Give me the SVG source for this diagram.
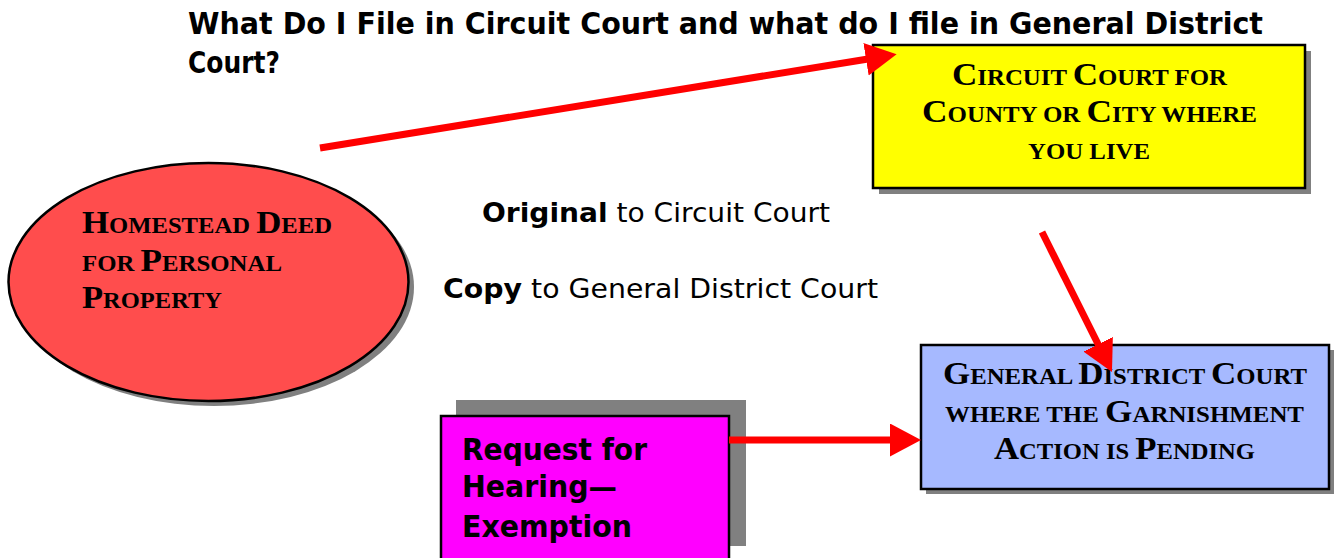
<svg xmlns="http://www.w3.org/2000/svg" width="1334" height="558" viewBox="0 0 1334 558">
  <style>
    .shadow { fill: #808080; }
    .edge { stroke: #000; stroke-width: 2.5; }
    .sc { font-family: "Liberation Serif", "Times New Roman", serif; font-weight: bold; font-size: 23px; fill: #000; }
    .big { font-size: 32.5px; }
    .sans { font-family: "DejaVu Sans", Verdana, sans-serif; fill: #000; }
    .bold { font-weight: bold; }
    .wire { stroke: #ff0000; stroke-width: 7; fill: none; marker-end: url(#head); }
  </style>
  <defs>
    <marker id="head" markerUnits="userSpaceOnUse" markerWidth="32" markerHeight="34" refX="2" refY="16.5" orient="auto">
      <path d="M0,0 L31,16.5 L0,33 z" fill="#ff0000"/>
    </marker>
  </defs>

  <!-- heading -->
  <g id="title">
    <text class="sans bold" x="188" y="34" font-size="30" textLength="1075" lengthAdjust="spacingAndGlyphs">What Do I File in Circuit Court and what do I file in General District</text>
    <text class="sans bold" x="188" y="73" font-size="30" textLength="92" lengthAdjust="spacingAndGlyphs">Court?</text>
  </g>

  <!-- homestead deed -->
  <g id="homestead-deed">
    <ellipse class="shadow" cx="214" cy="287" rx="200" ry="119"/>
    <ellipse cx="208.5" cy="282" rx="200" ry="119" fill="#ff4d4d" class="edge"/>
    <text class="sc" x="82" y="233" textLength="250" lengthAdjust="spacingAndGlyphs"><tspan class="big">H</tspan>OMESTEAD <tspan class="big">D</tspan>EED</text>
    <text class="sc" x="82" y="271" textLength="200" lengthAdjust="spacingAndGlyphs">FOR <tspan class="big">P</tspan>ERSONAL</text>
    <text class="sc" x="82" y="308" textLength="140" lengthAdjust="spacingAndGlyphs"><tspan class="big">P</tspan>ROPERTY</text>
  </g>

  <!-- circuit court -->
  <g id="circuit-court">
    <rect class="shadow" x="879" y="51" width="432" height="143"/>
    <rect x="873" y="45" width="432" height="143" fill="#ffff00" class="edge"/>
    <text class="sc" x="952" y="85" textLength="275" lengthAdjust="spacingAndGlyphs"><tspan class="big">C</tspan>IRCUIT <tspan class="big">C</tspan>OURT FOR</text>
    <text class="sc" x="922" y="122" textLength="335" lengthAdjust="spacingAndGlyphs"><tspan class="big">C</tspan>OUNTY OR <tspan class="big">C</tspan>ITY WHERE</text>
    <text class="sc" x="1028" y="159" textLength="122" lengthAdjust="spacingAndGlyphs">YOU LIVE</text>
  </g>

  <!-- filing notes -->
  <g id="filing-notes">
    <text class="sans" x="482" y="222" font-size="26.5" textLength="348" lengthAdjust="spacingAndGlyphs"><tspan class="bold">Original</tspan> to Circuit Court</text>
    <text class="sans" x="443" y="298" font-size="26.5" textLength="435" lengthAdjust="spacingAndGlyphs"><tspan class="bold">Copy</tspan> to General District Court</text>
  </g>

  <!-- general district court -->
  <g id="general-district-court">
    <rect class="shadow" x="926" y="350" width="408" height="144"/>
    <rect x="921" y="345" width="408" height="144" fill="#a6b9ff" class="edge"/>
    <text class="sc" x="943" y="384" textLength="364" lengthAdjust="spacingAndGlyphs"><tspan class="big">G</tspan>ENERAL <tspan class="big">D</tspan>ISTRICT <tspan class="big">C</tspan>OURT</text>
    <text class="sc" x="945" y="422" textLength="359" lengthAdjust="spacingAndGlyphs">WHERE THE <tspan class="big">G</tspan>ARNISHMENT</text>
    <text class="sc" x="994" y="459" textLength="261" lengthAdjust="spacingAndGlyphs"><tspan class="big">A</tspan>CTION IS <tspan class="big">P</tspan>ENDING</text>
  </g>

  <!-- hearing request -->
  <g id="hearing-request">
    <rect class="shadow" x="456" y="400" width="290" height="146"/>
    <rect x="441" y="416" width="288" height="150" fill="#ff00ff" class="edge"/>
    <text class="sans bold" x="462" y="460" font-size="29.5" textLength="185" lengthAdjust="spacingAndGlyphs">Request for</text>
    <text class="sans bold" x="462" y="497" font-size="29.5" textLength="155" lengthAdjust="spacingAndGlyphs">Hearing—</text>
    <text class="sans bold" x="462" y="537" font-size="29.5" textLength="170" lengthAdjust="spacingAndGlyphs">Exemption</text>
  </g>

  <!-- connectors -->
  <g id="connectors">
    <line class="wire" x1="320" y1="148" x2="868" y2="59"/>
    <line class="wire" x1="1042" y1="232" x2="1099" y2="346"/>
    <line class="wire" x1="729" y1="440" x2="892" y2="440"/>
  </g>
</svg>
